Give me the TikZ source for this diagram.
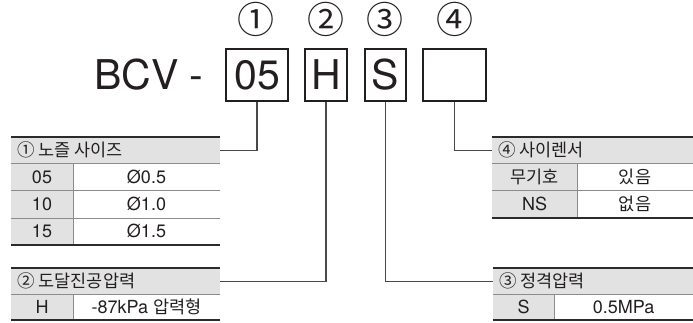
\documentclass[tikz,border=0pt]{standalone}
\usepackage{fontspec}
\setmainfont{TeX Gyre Heros}
\newfontfamily\kr{Noto Sans CJK KR}
\definecolor{ink}{RGB}{35,31,32}
\definecolor{thickc}{RGB}{45,42,43}
\definecolor{thinc}{RGB}{140,140,140}
\definecolor{connc}{RGB}{75,72,73}
\definecolor{hdrfill}{RGB}{226,226,226}
\tikzset{
  codebox/.style={draw=ink, line width=1.6pt, minimum width=#1, minimum height=52pt, inner sep=0pt, font=\fontsize{41}{44}\selectfont, text=ink},
  circnum/.style={inner sep=0pt, font=\kr\fontsize{37}{40}\selectfont, text=ink},
  hdrbox/.style={fill=hdrfill, minimum width=#1, inner sep=0pt, anchor=north west},
  cell/.style={inner sep=0pt, text height=12.5pt, text depth=0pt, font=\fontsize{18}{20}\selectfont, text=ink},
  hdrtext/.style={inner sep=0pt, anchor=west, text height=12.5pt, text depth=0pt, font=\fontsize{17.5}{20}\selectfont, text=ink},
  thickline/.style={draw=thickc, line width=1.7pt},
  thinline/.style={draw=thinc, line width=0.8pt},
  conn/.style={draw=connc, line width=1.1pt}
}
\begin{document}
\begin{tikzpicture}[x=1pt,y=-1pt]
\useasboundingbox (0,0) rectangle (693,322);
\fill[white] (0,0) rectangle (693,322);

% title
\node[inner sep=0pt, anchor=base west, font=\fontsize{41}{44}\selectfont, text=ink] (title) at (94,89) {BCV -};
\node[codebox=62pt] (b1) at (257,75) {05};
\node[codebox=42pt] (b2) at (326,75) {H};
\node[codebox=41pt] (b3) at (385.5,75) {S};
\node[codebox=63pt] (b4) at (454.5,75) {};
\node[circnum] (n1) at (256,19) {①};
\node[circnum] (n2) at (326,19) {②};
\node[circnum] (n3) at (385,19) {③};
\node[circnum] (n4) at (455,19) {④};

% table 1
\node[hdrbox=209pt, minimum height=26pt] (h1) at (11,137) {};
\fill[hdrfill] (11,163) rectangle (73,245);
\draw[thinline] (11,163) -- (220,163) (11,190.5) -- (220,190.5) (11,218) -- (220,218) (73,163) -- (73,245);
\draw[thickline] (11,137) -- (220,137) (11,245) -- (220,245);
\node[hdrtext] (t1) at (17,150) {\kr ① 노즐 사이즈};
\node[cell] (c11) at (42,176.75) {05};
\node[cell] (c12) at (146.5,176.75) {Ø0.5};
\node[cell] (c21) at (42,204.25) {10};
\node[cell] (c22) at (146.5,204.25) {Ø1.0};
\node[cell] (c31) at (42,231.5) {15};
\node[cell] (c32) at (146.5,231.5) {Ø1.5};

% table 2
\node[hdrbox=209pt, minimum height=26pt] (h2) at (11,268) {};
\fill[hdrfill] (11,294) rectangle (73,320);
\draw[thinline] (11,294) -- (220,294) (73,294) -- (73,320);
\draw[thickline] (11,268) -- (220,268) (11,320) -- (220,320);
\node[hdrtext] (t2) at (17,281) {\kr ② 도달진공압력};
\node[cell] (d11) at (42,307) {H};
\node[cell] (d12) at (146.5,307) {-87kPa {\kr\fontsize{17.5}{20}\selectfont 압력형}};

% table 3
\node[hdrbox=200pt, minimum height=26pt] (h3) at (493,268) {};
\fill[hdrfill] (493,294) rectangle (554,320);
\draw[thinline] (493,294) -- (693,294) (554,294) -- (554,320);
\draw[thickline] (493,268) -- (693,268) (493,320) -- (693,320);
\node[hdrtext] (t3) at (499,281) {\kr ③ 정격압력};
\node[cell] (e11) at (523.5,307) {S};
\node[cell] (e12) at (623.5,307) {0.5MPa};

% table 4
\node[hdrbox=201pt, minimum height=26pt] (h4) at (492,137) {};
\fill[hdrfill] (492,163) rectangle (577,218);
\draw[thinline] (492,163) -- (693,163) (492,190.5) -- (693,190.5) (577,163) -- (577,218);
\draw[thickline] (492,137) -- (693,137) (492,218) -- (693,218);
\node[hdrtext] (t4) at (498,150) {\kr ④ 사이렌서};
\node[cell] (f11) at (534.5,176.75) {\kr\fontsize{17.5}{20}\selectfont 무기호};
\node[cell] (f12) at (635,176.75) {\kr\fontsize{17.5}{20}\selectfont 있음};
\node[cell] (f21) at (534.5,204.25) {NS};
\node[cell] (f22) at (635,204.25) {\kr\fontsize{17.5}{20}\selectfont 없음};

% connectors
\draw[conn] (b1.south) |- (h1.east);
\draw[conn] (b2.south) |- (h2.east);
\draw[conn] (b3.south) |- (h3.west);
\draw[conn] (b4.south) |- (h4.west);
\end{tikzpicture}
\end{document}
